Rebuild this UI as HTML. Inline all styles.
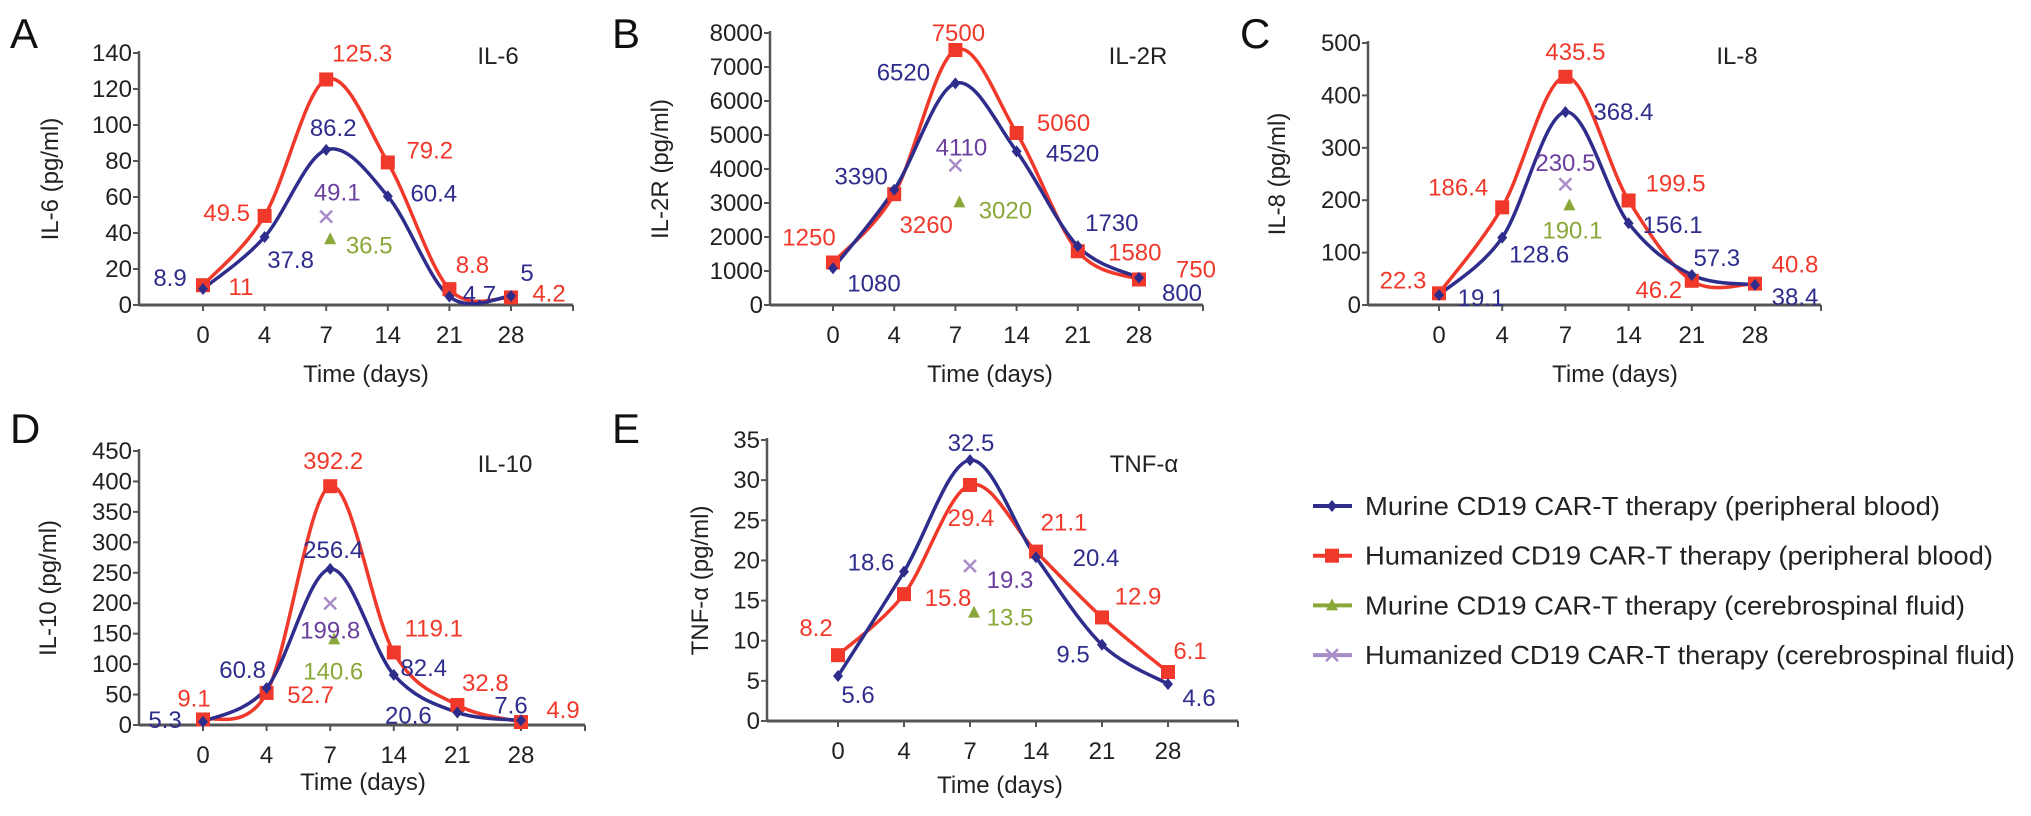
<!DOCTYPE html>
<html><head><meta charset="utf-8"><style>
body{margin:0;background:#fff}
svg{display:block;font-family:"Liberation Sans",Arial,sans-serif}
</style></head><body>
<svg id="fig" width="2031" height="816" viewBox="0 0 2031 816"></svg>
<script>
const days=["0","4","7","14","21","28"];
const il6Murine=[8.9,37.8,86.2,60.4,4.7,5];
const il6Human=[11,49.5,125.3,79.2,8.8,4.2];
const il6Csf=[36.5,49.1];
const il6Ticks=[0,20,40,60,80,100,120,140];
const il2rMurine=[1080,3390,6520,4520,1730,800];
const il2rHuman=[1250,3260,7500,5060,1580,750];
const il2rCsf=[3020,4110];
const il2rTicks=[0,1000,2000,3000,4000,5000,6000,7000,8000];
const il8Murine=[19.1,128.6,368.4,156.1,57.3,38.4];
const il8Human=[22.3,186.4,435.5,199.5,46.2,40.8];
const il8Csf=[190.1,230.5];
const il8Ticks=[0,100,200,300,400,500];
const il10Murine=[5.3,60.8,256.4,82.4,20.6,7.6];
const il10Human=[9.1,52.7,392.2,119.1,32.8,4.9];
const il10Csf=[140.6,199.8];
const il10Ticks=[0,50,100,150,200,250,300,350,400,450];
const tnfMurine=[5.6,18.6,32.5,20.4,9.5,4.6];
const tnfHuman=[8.2,15.8,29.4,21.1,12.9,6.1];
const tnfCsf=[13.5,19.3];
const tnfTicks=[0,5,10,15,20,25,30,35];

const BLUE="#2f2d8c",RED="#f0392b",GREEN="#8aa83a",PURPLE="#a88cc8",PTXT="#6b3f9e";
const NS="http://www.w3.org/2000/svg";
const svg=document.getElementById('fig');
function mk(tag,attrs,parent){const e=document.createElementNS(NS,tag);for(const k in attrs)e.setAttribute(k,attrs[k]);(parent||svg).appendChild(e);return e;}
function txt(s,x,y,size,fill,anchor,parent){const t=mk('text',{x:x,y:y,'font-size':size,fill:fill,'text-anchor':anchor||'middle'},parent);t.textContent=s;return t;}
function smooth(pts){let d=`M${pts[0][0]},${pts[0][1]}`;for(let i=0;i<pts.length-1;i++){const p0=pts[i-1]||pts[i],p1=pts[i],p2=pts[i+1],p3=pts[i+2]||p2;const c1=[p1[0]+(p2[0]-p0[0])/6,p1[1]+(p2[1]-p0[1])/6],c2=[p2[0]-(p3[0]-p1[0])/6,p2[1]-(p3[1]-p1[1])/6];d+=` C${c1[0]},${c1[1]} ${c2[0]},${c2[1]} ${p2[0]},${p2[1]}`;}return d;}
function marker(kind,x,y,g){
  if(kind==='sq'){const m=mk('rect',{x:x-7,y:y-7,width:14,height:14,fill:RED},g);}
  else if(kind==='dia'){const m=mk('path',{d:`M${x},${y-6}L${x+5},${y}L${x},${y+6}L${x-5},${y}Z`,fill:BLUE},g);}
  else if(kind==='tri'){const m=mk('path',{d:`M${x},${y-7}L${x+6},${y+5}L${x-6},${y+5}Z`,fill:GREEN},g);}
  else {const m=mk('path',{d:`M${x-6},${y-6}L${x+6},${y+6}M${x+6},${y-6}L${x-6},${y+6}`,stroke:PURPLE,'stroke-width':2.5},g);}
}
const FS=24;
function panel(o){
  const g=mk('g',{});
  
  
  const max=o.ticks[o.ticks.length-1];
  const yS=v=>o.y0-(v/max)*(o.y0-o.yTop);
  const xS=i=>o.x0+i*o.dx;
  const l=txt(o.letter,o.lx,o.ly,42,'#111','start',g);
  
  const ax=mk('line',{x1:o.ax,y1:o.yTop-2,x2:o.ax,y2:o.y0,stroke:'#555','stroke-width':2.5},g);
  
  const xa=mk('line',{x1:o.ax,y1:o.y0,x2:o.xEnd,y2:o.y0,stroke:'#555','stroke-width':3},g);
  
  mk('line',{x1:o.xEnd,y1:o.y0,x2:o.xEnd,y2:o.y0+6,stroke:'#555','stroke-width':2},g);
  o.ticks.forEach(t=>{const y=yS(t);mk('line',{x1:o.ax-6,y1:y,x2:o.ax,y2:y,stroke:'#555','stroke-width':2},g);
    const tl=txt(String(t),o.ax-7,y+8,FS,'#222','end',g);});
  days.forEach((d,i)=>{mk('line',{x1:xS(i),y1:o.y0,x2:xS(i),y2:o.y0+6,stroke:'#555','stroke-width':2},g);
    const tl=txt(d,xS(i),o.y0+38,FS,'#222','middle',g);});
  const xt=txt('Time (days)',o.txc,o.y0+o.tdy,FS,'#222','middle',g);
  
  const yt=txt(o.ylabel,0,0,FS,'#222','middle',g);
  yt.setAttribute('transform',`translate(${o.ytx},${(o.y0+o.yTop)/2}) rotate(-90)`);
  
  const ti=txt(o.title,o.tx,o.ty,FS,'#222','middle',g);
  
  const pr=o.human.map((v,i)=>[xS(i),yS(v)]);
  const pb=o.murine.map((v,i)=>[xS(i),yS(v)]);
  const lr=mk('path',{d:smooth(pr),fill:'none',stroke:RED,'stroke-width':3.5},g);
  
  const lb=mk('path',{d:smooth(pb),fill:'none',stroke:BLUE,'stroke-width':3.5},g);
  
  pr.forEach(p=>marker('sq',p[0],p[1],g));
  pb.forEach(p=>marker('dia',p[0],p[1],g));
  const gx=xS(2)+4,gy=yS(o.csf[0]),px=xS(2),py=yS(o.csf[1]);
  marker('tri',gx,gy,g);marker('x',px,py,g);
  const fmt=v=>String(v);
  o.murine.forEach((v,i)=>{const t=txt(fmt(v),pb[i][0]+o.bOff[i][0],pb[i][1]+o.bOff[i][1]+8,FS,BLUE,'middle',g);});
  o.human.forEach((v,i)=>{const t=txt(fmt(v),pr[i][0]+o.rOff[i][0],pr[i][1]+o.rOff[i][1]+8,FS,RED,'middle',g);});
  const gt=txt(fmt(o.csf[0]),gx+o.cOff[0][0],gy+o.cOff[0][1]+8,FS,GREEN,'middle',g);
  const pt=txt(fmt(o.csf[1]),px+o.cOff[1][0],py+o.cOff[1][1]+8,FS,PTXT,'middle',g);
}
panel({name:'il6',letter:'A',lx:10,ly:48,ax:139,x0:203,dx:61.6,xEnd:573,y0:305,yTop:53,ticks:il6Ticks,murine:il6Murine,human:il6Human,csf:il6Csf,
 ylabel:'IL-6 (pg/ml)',ytx:58,title:'IL-6',tx:498,ty:64,txc:366,tdy:77,
 bOff:[[-33,-11],[26,23],[7,-22],[46,-3],[30,-2],[16,-23]],
 rOff:[[38,2],[-38,-3],[36,-26],[42,-12],[23,-24],[38,-4]],
 cOff:[[39,6],[11,-24]]});
panel({name:'il2r',letter:'B',lx:612,ly:48,ax:770,x0:833,dx:61.2,xEnd:1203,y0:305,yTop:33,ticks:il2rTicks,murine:il2rMurine,human:il2rHuman,csf:il2rCsf,
 ylabel:'IL-2R (pg/ml)',ytx:668,title:'IL-2R',tx:1138,ty:64,txc:990,tdy:77,
 bOff:[[41,15],[-33,-13],[-52,-11],[56,2],[34,-23],[43,15]],
 rOff:[[-24,-25],[32,31],[3,-17],[47,-10],[57,1],[57,-10]],
 cOff:[[46,8],[6,-18]]});
panel({name:'il8',letter:'C',lx:1240,ly:48,ax:1368,x0:1439,dx:63.2,xEnd:1821,y0:305,yTop:43,ticks:il8Ticks,murine:il8Murine,human:il8Human,csf:il8Csf,
 ylabel:'IL-8 (pg/ml)',ytx:1285,title:'IL-8',tx:1737,ty:64,txc:1615,tdy:77,
 bOff:[[42,3],[37,17],[58,0],[44,2],[25,-17],[40,12]],
 rOff:[[-36,-13],[-44,-20],[10,-25],[47,-17],[-33,9],[40,-19]],
 cOff:[[3,25],[0,-21]]});
panel({name:'il10',letter:'D',lx:10,ly:443,ax:139,x0:203,dx:63.6,xEnd:585,y0:725,yTop:451,ticks:il10Ticks,murine:il10Murine,human:il10Human,csf:il10Csf,
 ylabel:'IL-10 (pg/ml)',ytx:56,title:'IL-10',tx:505,ty:472,txc:363,tdy:65,
 bOff:[[-38,-2],[-24,-18],[3,-19],[30,-7],[-49,3],[-10,-15]],
 rOff:[[-9,-21],[44,2],[3,-25],[40,-24],[28,-22],[42,-12]],
 cOff:[[-1,32],[0,27]]});
panel({name:'tnf',letter:'E',lx:612,ly:443,ax:767,x0:838,dx:66,xEnd:1238,y0:721,yTop:440,ticks:tnfTicks,murine:tnfMurine,human:tnfHuman,csf:tnfCsf,
 ylabel:'TNF-α (pg/ml)',ytx:708,title:'TNF-α',tx:1144,ty:472,txc:1000,tdy:72,
 bOff:[[20,19],[-33,-9],[1,-17],[60,1],[-29,10],[31,14]],
 rOff:[[-22,-27],[44,4],[1,33],[28,-29],[36,-21],[22,-21]],
 cOff:[[36,5],[40,14]]});
// legend
const legItems=[["Murine CD19 CAR-T therapy (peripheral blood)",BLUE,'dia',575],["Humanized CD19 CAR-T therapy (peripheral blood)",RED,'sq',628],["Murine CD19 CAR-T therapy (cerebrospinal fluid)",GREEN,'tri',600],["Humanized CD19 CAR-T therapy (cerebrospinal fluid)",PURPLE,'x',650]];
const lg=mk('g',{});


legItems.forEach((it,i)=>{const y=506+i*49.7;
  const e=mk('g',{},lg);
  
  
  mk('line',{x1:1313,y1:y,x2:1352,y2:y,stroke:it[1],'stroke-width':4},e);
  marker(it[2],1332,y,e);
  const t=txt(it[0],1365,y+9,26,'#222','start',e);
  t.setAttribute('textLength',it[3]);t.setAttribute('lengthAdjust','spacingAndGlyphs');});
</script>
</body></html>
